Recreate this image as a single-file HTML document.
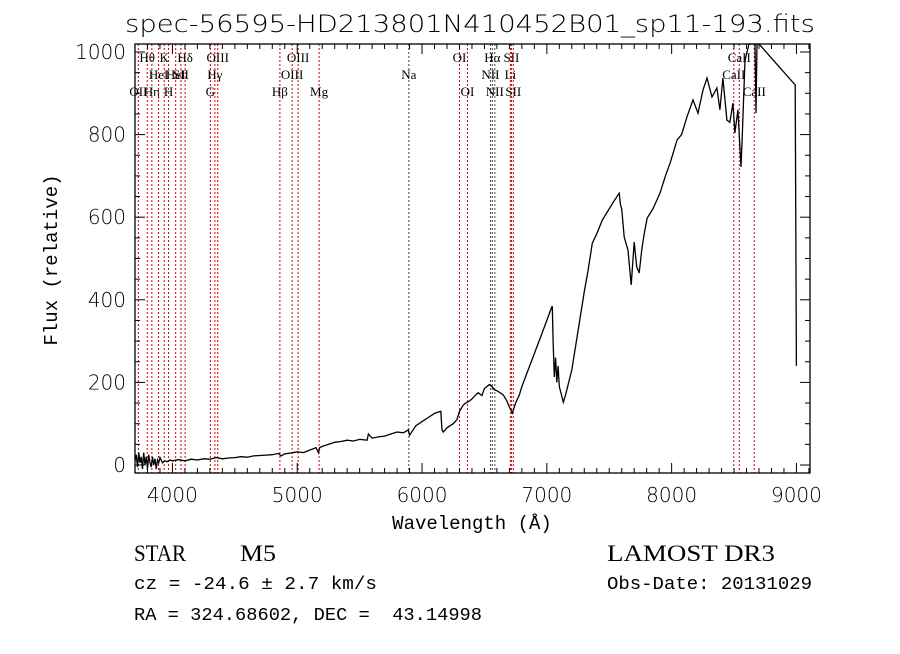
<!DOCTYPE html>
<html><head><meta charset="utf-8"><style>
body{margin:0;background:#fff;width:900px;height:649px;overflow:hidden}
</style></head><body>
<svg id="chart" width="900" height="649" xmlns="http://www.w3.org/2000/svg">
<text x="470" y="32" font-size="24" text-anchor="middle" style="font-family:'DejaVu Sans',sans-serif;font-weight:200" textLength="690" lengthAdjust="spacingAndGlyphs">spec-56595-HD213801N410452B01_sp11-193.fits</text>
<g id="lines"></g>
<g id="axes"></g>
<path id="spec" fill="none" stroke="#000" stroke-width="1.3"/>
<text x="472" y="529" font-size="19" text-anchor="middle" style="font-family:'Liberation Mono',monospace">Wavelength (Å)</text>
<text transform="translate(57,260) rotate(-90)" font-size="19" text-anchor="middle" style="font-family:'Liberation Mono',monospace">Flux (relative)</text>
<text x="134" y="561" font-size="23" style="font-family:'Liberation Serif',serif" textLength="52" lengthAdjust="spacingAndGlyphs">STAR</text>
<text x="240" y="561" font-size="23" style="font-family:'Liberation Serif',serif" textLength="36" lengthAdjust="spacingAndGlyphs">M5</text>
<text x="134" y="589" font-size="18.5" style="font-family:'Liberation Mono',monospace;white-space:pre" textLength="243" lengthAdjust="spacingAndGlyphs">cz = -24.6 ± 2.7 km/s</text>
<text x="134" y="620" font-size="18.5" style="font-family:'Liberation Mono',monospace;white-space:pre" textLength="348" lengthAdjust="spacingAndGlyphs">RA = 324.68602, DEC =  43.14998</text>
<text x="607" y="561" font-size="23" style="font-family:'Liberation Serif',serif" textLength="168" lengthAdjust="spacingAndGlyphs">LAMOST DR3</text>
<text x="607" y="589" font-size="18.5" style="font-family:'Liberation Mono',monospace" textLength="205" lengthAdjust="spacingAndGlyphs">Obs-Date: 20131029</text>
</svg>
<script>
const wave=[3700,3710,3720,3730,3740,3750,3760,3770,3780,3790,3800,3810,3820,3830,3840,3850,3860,3870,3880,3890,3900,3920,3940,3960,3980,4000,4050,4100,4150,4200,4250,4300,4350,4400,4450,4500,4550,4600,4650,4700,4750,4800,4850,4870,4900,4950,5000,5050,5100,5150,5170,5180,5200,5250,5300,5350,5400,5450,5500,5560,5570,5600,5650,5700,5750,5800,5850,5890,5900,5950,6000,6050,6100,6150,6160,6170,6200,6250,6280,6300,6330,6350,6380,6400,6430,6450,6480,6500,6540,6560,6580,6600,6620,6650,6680,6700,6724,6750,6780,6800,6850,6900,6950,7000,7040,7044,7050,7060,7070,7080,7090,7100,7132,7150,7200,7260,7300,7330,7364,7400,7444,7500,7540,7580,7590,7600,7620,7650,7676,7700,7720,7740,7760,7780,7804,7850,7907,7950,7988,8044,8080,8123,8171,8211,8251,8283,8323,8363,8387,8411,8443,8467,8491,8507,8531,8556,8564,8588,8620,8660,8668,8676,8684,8700,8990,9000];
const flux=[10,25,-5,30,5,20,-10,30,0,20,-8,25,5,-5,20,0,15,-10,12,5,18,5,10,8,12,10,13,10,14,12,15,14,18,15,17,18,20,19,22,23,24,25,28,22,27,29,32,30,36,42,30,42,45,50,55,57,60,58,62,60,75,65,68,70,75,80,78,85,72,95,105,115,125,130,85,80,90,100,110,130,145,150,155,160,170,175,168,185,195,190,182,180,176,170,155,140,126,150,170,190,230,270,310,350,383,383,300,213,260,200,240,190,152,170,230,344,420,470,537,560,593,620,640,658,630,620,552,520,436,540,480,465,520,560,598,620,658,700,731,787,800,843,884,852,908,937,891,913,860,937,835,830,876,804,860,722,780,980,1020,1020,1020,852,1020,1020,920,240];
const lineWaves=[3727,3798,3835,3889,3934,3969,4026,4068,4102,4304,4340,4363,4861,4959,5007,5175,5894,6300,6364,6548,6563,6583,6708,6716,6731,8498,8542,8662];
const lineLabels=["OII","Hθ","Hη","HeI","K","H","HeI","SII","Hδ","G","Hγ","OIII","Hβ","OIII","OIII","Mg","Na","OI","OI","NII","Hα","NII","Li","SII","SII","CaII","CaII","CaII"];
const labelRows=[2,0,2,1,0,2,1,1,0,2,1,0,2,1,0,2,1,0,2,1,0,2,1,0,2,1,0,2];
const xTicks=[4000,5000,6000,7000,8000,9000];
const yTicks=[0,200,400,600,800,1000];
const X0=135,X1=810,Y0=44,Y1=473;
const xs=w=>135+(w-3700)*0.1248;
const ys=f=>465-f*0.413;
const NS='http://www.w3.org/2000/svg';
function mk(t,a,p){const e=document.createElementNS(NS,t);for(const k in a)e.setAttribute(k,a[k]);p.appendChild(e);return e;}
const L=document.getElementById('lines');
lineWaves.forEach((w,i)=>{
  const dark=(lineLabels[i]==='Hα'||lineLabels[i]==='NII'||lineLabels[i]==='Na');
  const l=mk('line',{x1:xs(w),x2:xs(w),y1:Y0,y2:Y1,stroke:dark?'#444':'#c00','stroke-width':1,'stroke-dasharray':'2,2'},L);
  
  
  const t=mk('text',{x:xs(w),y:62+labelRows[i]*17,'font-size':13,'text-anchor':'middle',style:"font-family:'Liberation Serif',serif"},L);
  t.textContent=lineLabels[i];
  
  
});
const A=document.getElementById('axes');
const box=mk('rect',{x:X0,y:Y0,width:X1-X0,height:Y1-Y0,fill:'none',stroke:'#000','stroke-width':1.3},A);


for(let w=3800;w<=9100;w+=100){const x=xs(w);const big=w%1000===0;const h=big?10:5;
  mk('line',{x1:x,x2:x,y1:Y1,y2:Y1-h,stroke:'#000'},A);mk('line',{x1:x,x2:x,y1:Y0,y2:Y0+h,stroke:'#000'},A);}
for(let f=0;f<=1000;f+=50){const y=ys(f);const big=f%200===0;const h=big?10:5;
  mk('line',{x1:X0,x2:X0+h,y1:y,y2:y,stroke:'#000'},A);mk('line',{x1:X1,x2:X1-h,y1:y,y2:y,stroke:'#000'},A);}
xTicks.forEach(v=>{const t=mk('text',{x:xs(v),y:502,'font-size':20,'text-anchor':'middle',style:"font-family:'DejaVu Sans',sans-serif;font-weight:200"},A);t.textContent=v;
  
  });
yTicks.forEach(v=>{const t=mk('text',{x:126,y:ys(v)+7,'font-size':20,'text-anchor':'end',style:"font-family:'DejaVu Sans',sans-serif;font-weight:200"},A);t.textContent=v;
  
  });
let d='';wave.forEach((w,i)=>{d+=(i?'L':'M')+xs(w).toFixed(1)+','+Math.max(Y0,ys(flux[i])).toFixed(1);});
document.getElementById('spec').setAttribute('d',d);
</script>
</body></html>
